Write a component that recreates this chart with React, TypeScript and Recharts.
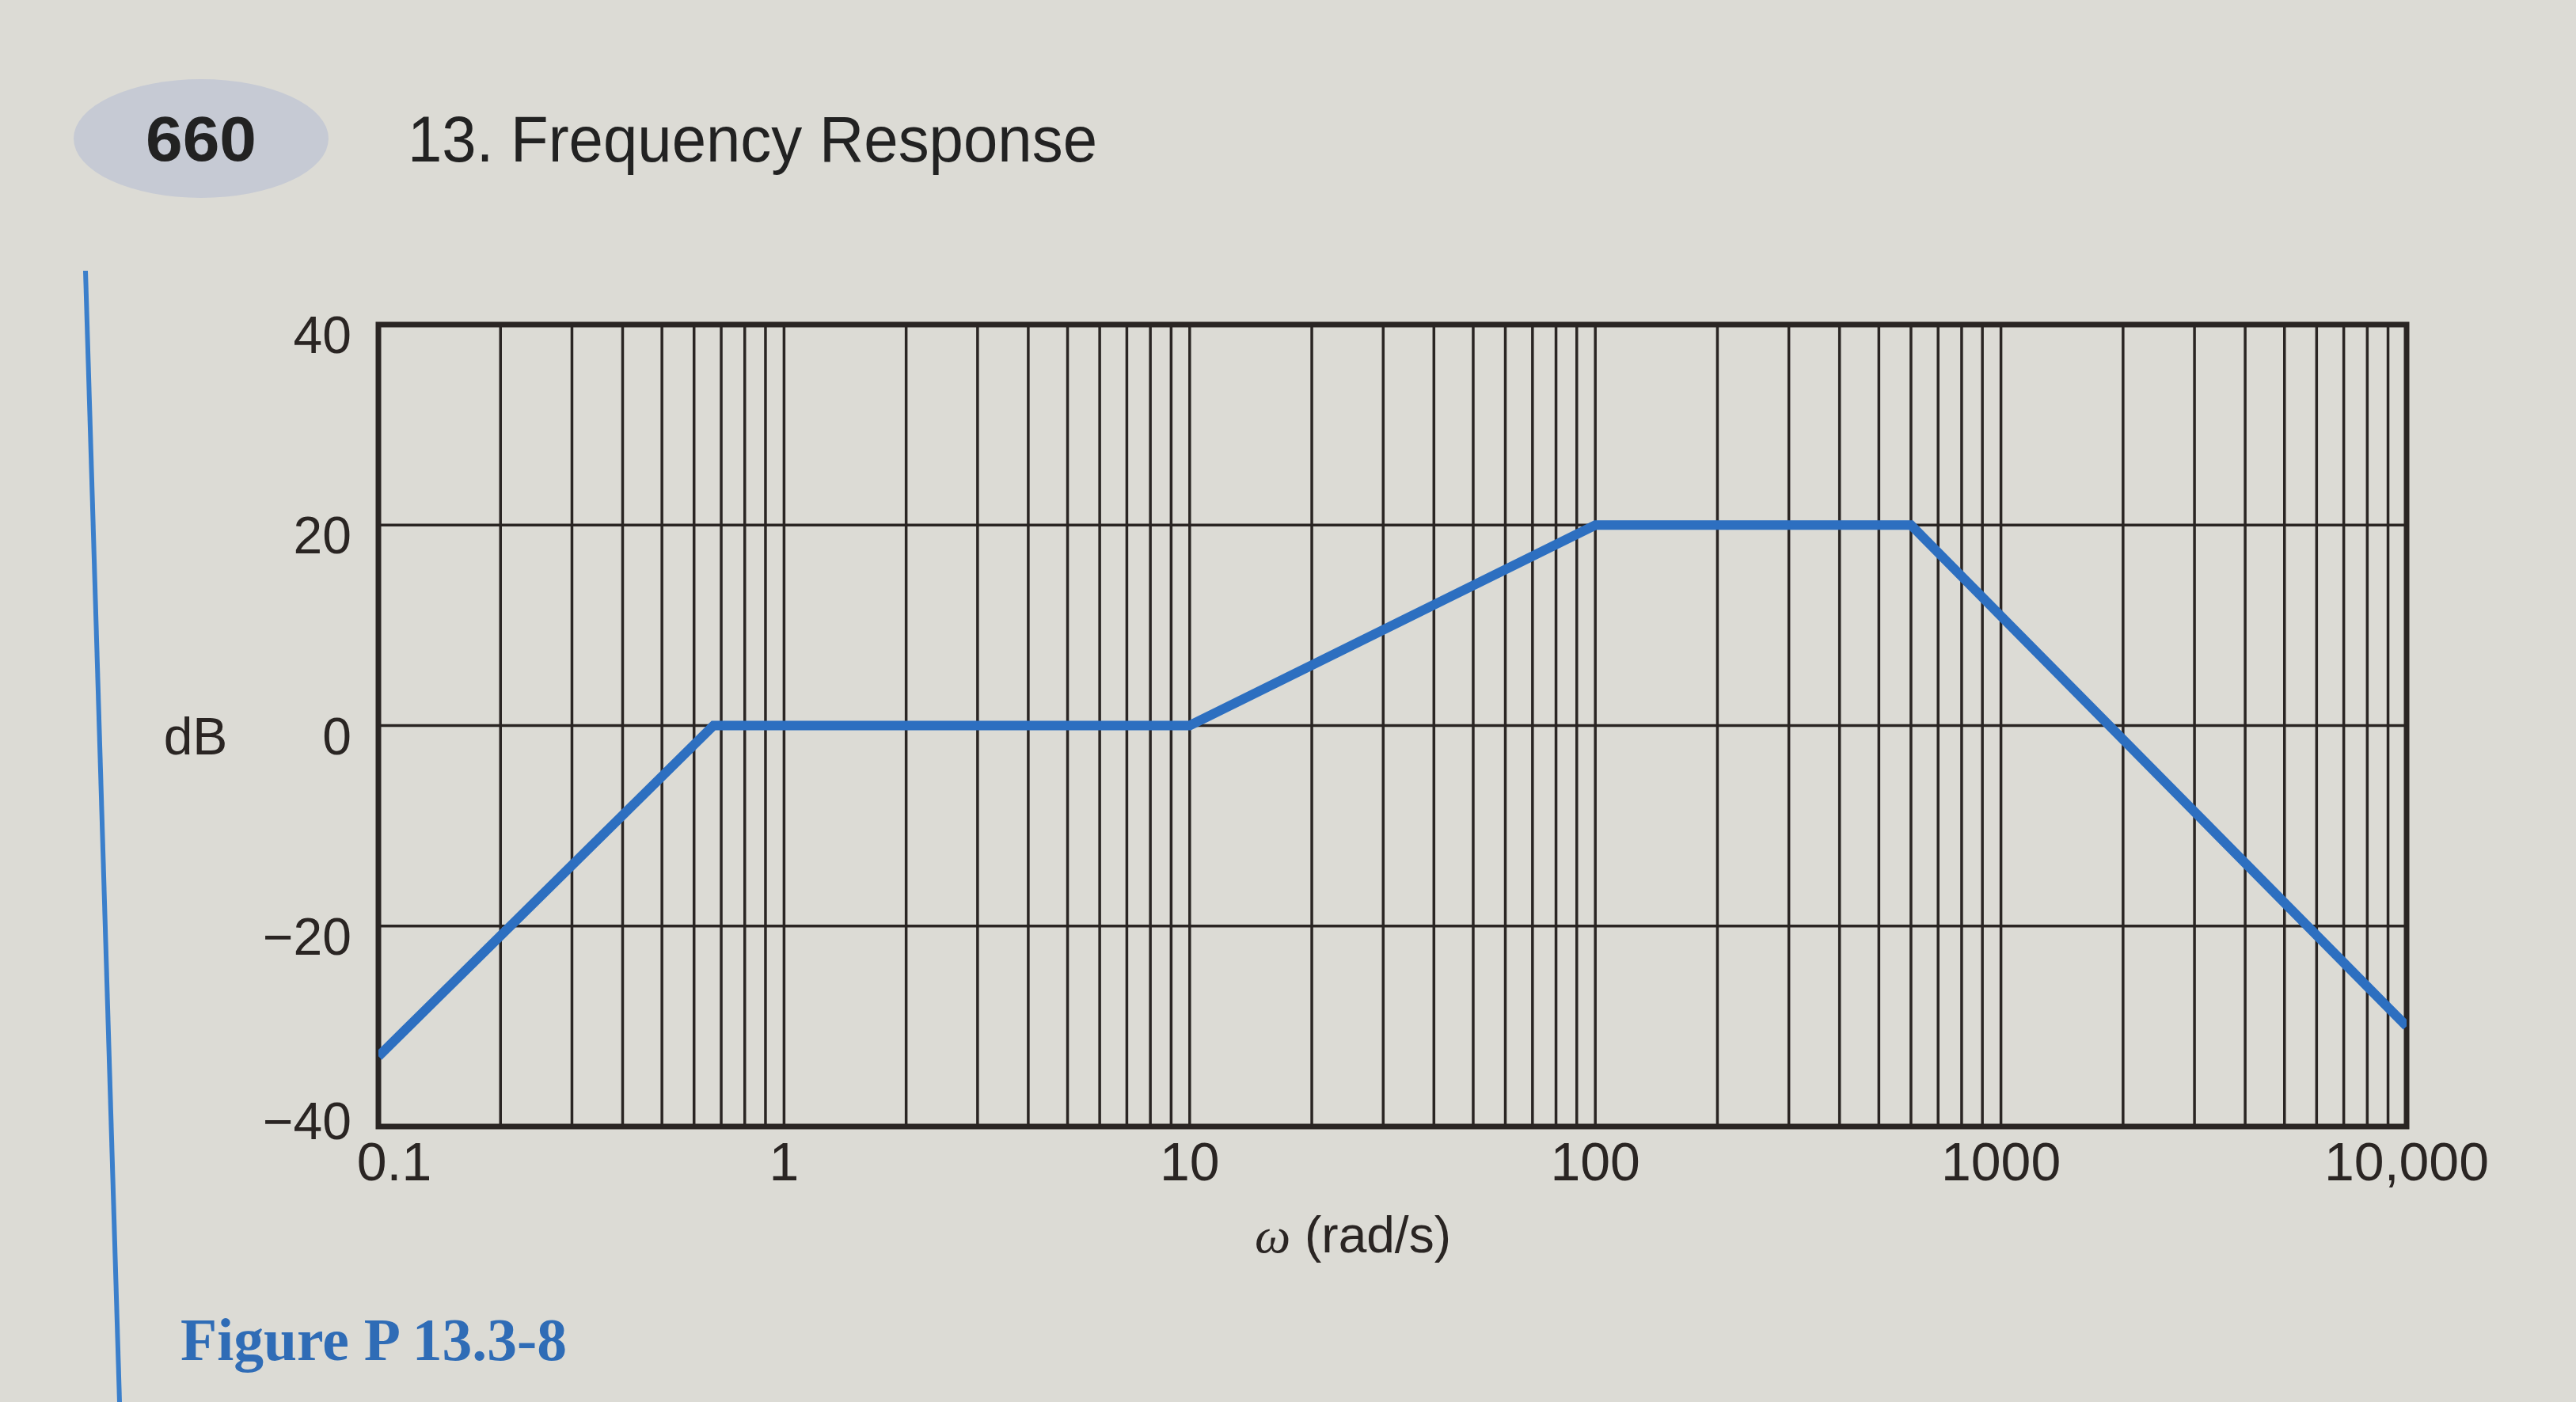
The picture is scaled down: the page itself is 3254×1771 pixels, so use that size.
import React from 'react';
import { LineChart, Line, XAxis, YAxis, CartesianGrid, ReferenceArea } from 'recharts';

// Asymptotic Bode magnitude plot
const omega = [0.1, 0.67, 10, 100, 600, 10000];
const magnitudeDb = [-33, 0, 0, 20, 20, -30];

// Log grid lines (1..9 per decade) and labelled decades
const xGridTicks = [
  0.1, 0.2, 0.3, 0.4, 0.5, 0.6, 0.7, 0.8, 0.9,
  1, 2, 3, 4, 5, 6, 7, 8, 9,
  10, 20, 30, 40, 50, 60, 70, 80, 90,
  100, 200, 300, 400, 500, 600, 700, 800, 900,
  1000, 2000, 3000, 4000, 5000, 6000, 7000, 8000, 9000,
  10000,
];
const decadeTicks = [0.1, 1, 10, 100, 1000, 10000];
const decadeLabels = ['0.1', '1', '10', '100', '1000', '10,000'];
const yTicks = [-40, -20, 0, 20, 40];
const yLabels = ['\u221240', '\u221220', '0', '20', '40'];

const rows = omega.map((w, i) => ({ w, db: magnitudeDb[i] }));

const INK = '#2a2523';
const PAPER = '#dcdbd5';
const BLUE = '#2d6fc0';
const SANS = '"Liberation Sans", Arial, sans-serif';
const NARROW = '"Liberation Sans Narrow", "Liberation Sans", Arial, sans-serif';

const XTick = (props: any) => {
  const { x, y, payload } = props;
  const idx = decadeTicks.indexOf(payload.value);
  if (idx < 0) return null;
  const dx = idx === 0 ? 20 : 0;
  return (
    <text x={x + dx} y={y + 60} textAnchor="middle" fontSize={68} fill={INK} fontFamily={SANS}>
      {decadeLabels[idx]}
    </text>
  );
};

const YTick = (props: any) => {
  const { x, y, payload } = props;
  const idx = yTicks.indexOf(payload.value);
  if (idx < 0) return null;
  const dy = idx === 0 ? 16 : 36;
  return (
    <text x={x - 26} y={y + dy} textAnchor="end" fontSize={66} fill={INK} fontFamily={SANS}>
      {yLabels[idx]}
    </text>
  );
};

export default function App() {
  return (
    <div style={{ position: 'absolute', left: 0, top: 0, width: 3254, height: 1771, background: PAPER, overflow: 'hidden' }}>
      <svg width={3254} height={1771} style={{ position: 'absolute', left: 0, top: 0 }}>
        <ellipse cx={254} cy={175} rx={161} ry={75} fill="#c6cad4" />
        <text x={254} y={203} textAnchor="middle" fontSize={80} fontWeight="bold" fill="#222" fontFamily={SANS} textLength={140} lengthAdjust="spacingAndGlyphs">660</text>
        <text x={515} y={204} fontSize={82} fill="#222" fontFamily={NARROW} textLength={871} lengthAdjust="spacingAndGlyphs">13. Frequency Response</text>
        <line x1={108} y1={342} x2={151} y2={1771} stroke="#3b7fcb" strokeWidth={6} />
        <text x={228} y={1718} fontSize={76} fontWeight="bold" fill="#2f6cb6" fontFamily='"Liberation Serif", "Times New Roman", serif' textLength={488} lengthAdjust="spacingAndGlyphs">Figure P 13.3-8</text>
        <text x={247} y={953} textAnchor="middle" fontSize={66} fill={INK} fontFamily={SANS}>dB</text>
        <text x={1709} y={1582} textAnchor="middle" fontSize={64} fill={INK} fontFamily={SANS}>
          <tspan fontFamily='"Liberation Serif", serif' fontStyle="italic">ω</tspan> (rad/s)
        </text>
      </svg>
      <div style={{ position: 'absolute', left: 0, top: 0 }}>
        <LineChart width={3254} height={1771} data={rows} margin={{ top: 410, right: 214, bottom: 248, left: 378 }}>
          <CartesianGrid stroke={INK} strokeWidth={3.5} />
          <XAxis
            dataKey="w"
            type="number"
            scale="log"
            domain={[0.1, 10000]}
            ticks={xGridTicks}
            interval={0}
            allowDataOverflow
            axisLine={false}
            tickLine={false}
            height={100}
            tick={<XTick />}
          />
          <YAxis
            type="number"
            domain={[-40, 40]}
            ticks={yTicks}
            interval={0}
            axisLine={false}
            tickLine={false}
            width={100}
            tick={<YTick />}
          />
          <ReferenceArea x1={0.1} x2={10000} y1={-40} y2={40} fill="none" fillOpacity={0} stroke={INK} strokeWidth={7} />
          <Line type="linear" dataKey="db" stroke={BLUE} strokeWidth={12} dot={false} isAnimationActive={false} strokeLinejoin="miter" />
        </LineChart>
      </div>
    </div>
  );
}
